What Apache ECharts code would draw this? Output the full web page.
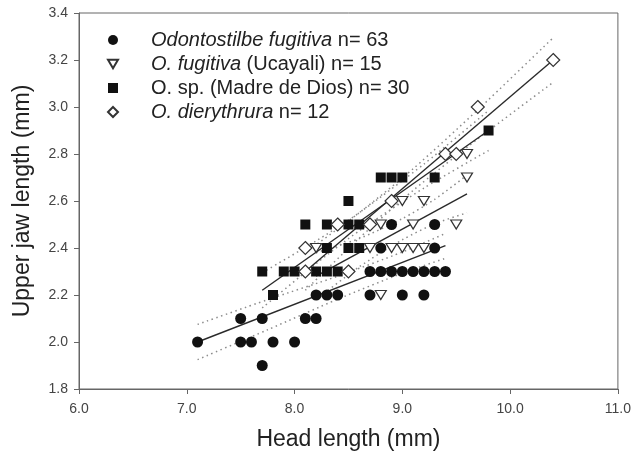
<!DOCTYPE html>
<html><head><meta charset="utf-8">
<script src="https://cdn.jsdelivr.net/npm/echarts@6/dist/echarts.min.js"></script>
<style>html,body{margin:0;padding:0;background:#fff}#c{width:634px;height:461px}</style>
</head><body><div id="c"></div>
<script>
// ---- data ----
const xTicks = [6, 7, 8, 9, 10, 11];
const yTicks = [1.8, 2.0, 2.2, 2.4, 2.6, 2.8, 3.0, 3.2, 3.4];

const fugitiva = [[7.1,2.0],[7.5,2.1],[7.5,2.0],[7.6,2.0],[7.7,2.1],[7.7,1.9],[7.8,2.0],[8.0,2.0],
  [8.1,2.1],[8.2,2.1],[8.2,2.2],[8.3,2.2],[8.4,2.2],[8.7,2.2],[9.0,2.2],[9.2,2.2],
  [8.7,2.3],[8.8,2.3],[8.9,2.3],[9.0,2.3],[9.1,2.3],[9.2,2.3],[9.3,2.3],[9.4,2.3],
  [8.8,2.4],[9.3,2.4],[8.9,2.5],[9.3,2.5]];
const ucayali = [[8.2,2.4],[8.7,2.4],[8.9,2.4],[9.0,2.4],[9.1,2.4],[9.2,2.4],[8.8,2.5],[9.1,2.5],
  [9.5,2.5],[9.0,2.6],[9.2,2.6],[9.6,2.7],[9.6,2.8],[8.8,2.2]];
const madreDeDios = [[7.7,2.3],[7.8,2.2],[7.9,2.3],[8.0,2.3],[8.2,2.3],[8.3,2.3],[8.4,2.3],
  [8.1,2.5],[8.3,2.5],[8.5,2.5],[8.6,2.5],[8.3,2.4],[8.5,2.4],[8.6,2.4],[8.5,2.6],
  [8.8,2.7],[8.9,2.7],[9.0,2.7],[9.3,2.7],[9.8,2.9]];
const dierythrura = [[8.1,2.4],[8.1,2.3],[8.4,2.5],[8.5,2.3],[8.7,2.5],[8.9,2.6],[9.4,2.8],
  [9.5,2.8],[9.7,3.0],[10.4,3.2]];

// regression lines (end points)
const fitFugitiva = [[7.1,2.0],[9.4,2.41]];
const fitUcayali = [[8.2,2.28],[9.6,2.63]];
const fitMadre = [[7.7,2.22],[9.8,2.90]];
const fitDiery = [[8.1,2.30],[10.4,3.20]];

// confidence bands
const bandFugitivaUp = [[7.1,2.075],[7.75,2.18],[8.4,2.28],[9.0,2.383],[9.4,2.462]];
const bandFugitivaLo = [[7.1,1.925],[7.75,2.052],[8.4,2.182],[9.0,2.293],[9.4,2.356]];
const bandUcayaliUp = [[8.2,2.38],[8.6,2.44],[9.0,2.525],[9.3,2.607],[9.6,2.71]];
const bandUcayaliLo = [[8.2,2.18],[8.6,2.32],[9.0,2.435],[9.3,2.503],[9.6,2.55]];
const bandMadreUp = [[7.7,2.295],[8.2,2.43],[8.6,2.55],[9.2,2.757],[9.8,2.985]];
const bandMadreLo = [[7.7,2.145],[8.2,2.334],[8.6,2.473],[9.2,2.655],[9.8,2.815]];
const bandDieryUp = [[8.1,2.38],[8.6,2.55],[9.1,2.737],[9.7,2.988],[10.4,3.295]];
const bandDieryLo = [[8.1,2.22],[8.6,2.442],[9.1,2.645],[9.7,2.864],[10.4,3.105]];

const legendLabels = {
  fugitiva: '{sp| }{it|Odontostilbe fugitiva}{rg| n= 63}',
  ucayali: '{sp| }{it|O. fugitiva}{rg| (Ucayali) n= 15}',
  madre: '{sp| }{rg|O. sp. (Madre de Dios) n= 30}',
  diery: '{sp| }{it|O. dierythrura}{rg| n= 12}'
};
const xName = 'Head length (mm)';
const yName = 'Upper jaw length (mm)';

// ---- chart ----
const FONT = '"Liberation Sans", Arial, sans-serif';
const triDown = 'path://M0,0L20,0L10,17Z';
const chart = echarts.init(document.getElementById('c'), null, {renderer: 'canvas'});

function fitLine(data) {
  return {type: 'line', data: data, showSymbol: false, symbol: 'none', silent: true, z: 2,
    lineStyle: {color: '#2a2a2a', width: 1.4}};
}
function bandLine(data) {
  return {type: 'line', data: data, showSymbol: false, symbol: 'none', silent: true, z: 1,
    smooth: 0.25,
    lineStyle: {color: '#8c8c8c', width: 1.5, type: [1.5, 3.5]}};
}

chart.setOption({
  animation: false,
  grid: {left: 79, right: 15, top: 13, bottom: 72, show: true, borderColor: '#666', borderWidth: 1},
  xAxis: {
    type: 'value', min: xTicks[0], max: xTicks[xTicks.length - 1], interval: 1,
    axisLine: {show: true, lineStyle: {color: '#666', width: 1}},
    axisTick: {show: true, inside: false, length: 5, lineStyle: {color: '#666'}},
    axisLabel: {formatter: v => v.toFixed(1), margin: 13, fontSize: 14, color: '#444', fontFamily: FONT},
    splitLine: {show: false},
    name: xName, nameLocation: 'middle', nameGap: 39,
    nameTextStyle: {fontSize: 23, color: '#222', fontFamily: FONT}
  },
  yAxis: {
    type: 'value', min: yTicks[0], max: yTicks[yTicks.length - 1], interval: 0.2,
    axisLine: {show: true, lineStyle: {color: '#666', width: 1}},
    axisTick: {show: true, inside: false, length: 5, lineStyle: {color: '#666'}},
    axisLabel: {formatter: v => v.toFixed(1), margin: 11, fontSize: 14, color: '#444', fontFamily: FONT},
    splitLine: {show: false},
    name: yName, nameLocation: 'middle', nameGap: 45,
    nameTextStyle: {fontSize: 23, color: '#222', fontFamily: FONT}
  },
  legend: {
    orient: 'vertical', left: 102, top: 23, itemWidth: 10, itemHeight: 10, itemGap: 0,
    selectedMode: false,
    data: [
      {name: 'fugitiva', icon: 'circle'},
      {name: 'ucayali', icon: triDown},
      {name: 'madre', icon: 'rect'},
      {name: 'diery', icon: 'diamond'}
    ],
    formatter: name => legendLabels[name],
    textStyle: {
      fontFamily: FONT, fontSize: 20, color: '#222', lineHeight: 24,
      rich: {
        sp: {width: 28, fontSize: 20, fontFamily: FONT, lineHeight: 24},
        it: {fontStyle: 'italic', fontSize: 20, fontFamily: FONT, color: '#222', lineHeight: 24},
        rg: {fontSize: 20, fontFamily: FONT, color: '#222', lineHeight: 24}
      }
    }
  },
  series: [
    bandLine(bandFugitivaUp), bandLine(bandFugitivaLo),
    bandLine(bandUcayaliUp), bandLine(bandUcayaliLo),
    bandLine(bandMadreUp), bandLine(bandMadreLo),
    bandLine(bandDieryUp), bandLine(bandDieryLo),
    fitLine(fitFugitiva), fitLine(fitUcayali), fitLine(fitMadre), fitLine(fitDiery),
    {name: 'fugitiva', type: 'scatter', data: fugitiva, symbol: 'circle', symbolSize: 11, z: 3,
      itemStyle: {color: '#111', opacity: 1}},
    {name: 'ucayali', type: 'scatter', data: ucayali, symbol: triDown, symbolSize: [11, 9], z: 4,
      itemStyle: {color: '#fff', borderColor: '#333', borderWidth: 1.2, opacity: 1}},
    {name: 'madre', type: 'scatter', data: madreDeDios, symbol: 'rect', symbolSize: 10, z: 3,
      itemStyle: {color: '#111', opacity: 1}},
    {name: 'diery', type: 'scatter', data: dierythrura, symbol: 'diamond', symbolSize: [13, 13], z: 5,
      itemStyle: {color: '#fff', borderColor: '#333', borderWidth: 1.2, opacity: 1}}
  ]
});
</script>
</body></html>
